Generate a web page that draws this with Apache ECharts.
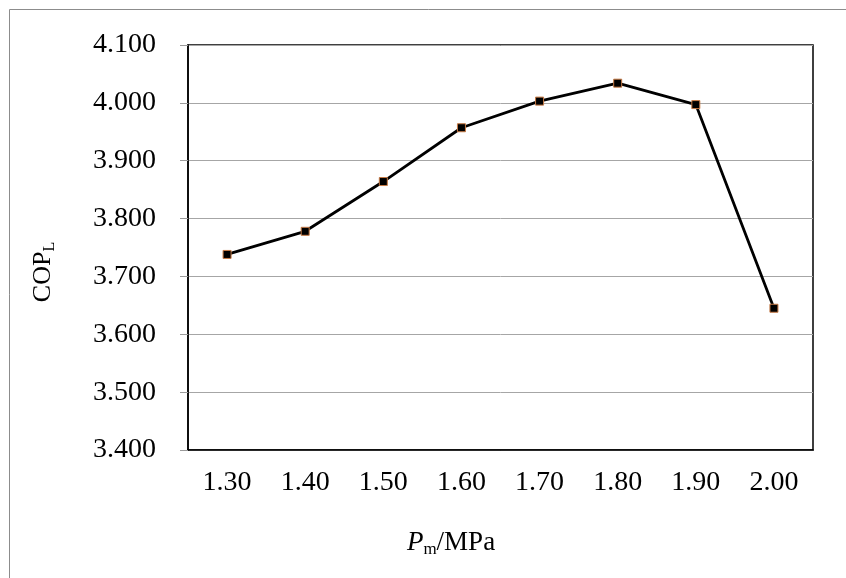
<!DOCTYPE html>
<html lang="en">
<head>
    <meta charset="UTF-8">
    <title>COPL</title>
    <style>
        body { margin: 0; background: #fff; }
        #main { width: 846px; height: 578px; }
    </style>
</head>
<body>
    <div id="main"></div>
    <script src="https://cdn.jsdelivr.net/npm/echarts@6/dist/echarts.min.js"></script>
    <script>
        // 压力 Pm (MPa)
        var categories = ['1.30', '1.40', '1.50', '1.60', '1.70', '1.80', '1.90', '2.00'];
        // COP_L
        var copValues = [3.738, 3.778, 3.864, 3.957, 4.003, 4.034, 3.997, 3.645];
        var yTicks = { min: 3.4, max: 4.1, step: 0.1 };

        var font = '"Liberation Serif", "Times New Roman", serif';

        var option = {
            animation: false,
            backgroundColor: '#fff',
            grid: {
                left: 188,
                top: 45,
                right: 33,
                bottom: 128,
                show: true,
                borderColor: '#000',
                borderWidth: 1.5,
                backgroundColor: 'transparent'
            },
            graphic: [
                {
                    type: 'rect',
                    shape: { x: 9.5, y: 9.5, width: 900, height: 700 },
                    style: { fill: 'none', stroke: '#8c8c8c', lineWidth: 1 },
                    silent: true
                },
                {
                    type: 'text',
                    x: 43,
                    y: 272,
                    rotation: Math.PI / 2,
                    style: {
                        text: '{a|COP}{b|L}',
                        align: 'center',
                        verticalAlign: 'middle',
                        rich: {
                            a: { fontFamily: font, fontSize: 26, fill: '#000' },
                            b: { fontFamily: font, fontSize: 16, fill: '#000', padding: [14, 0, 0, 0] }
                        }
                    }
                },
                {
                    type: 'text',
                    x: 451,
                    y: 543,
                    style: {
                        text: '{i|P}{s|m}{a|/MPa}',
                        align: 'center',
                        verticalAlign: 'middle',
                        rich: {
                            i: { fontFamily: font, fontSize: 27, fontStyle: 'italic', fill: '#000' },
                            s: { fontFamily: font, fontSize: 17, fill: '#000', padding: [14, 0, 0, 0] },
                            a: { fontFamily: font, fontSize: 27, fill: '#000' }
                        }
                    }
                }
            ],
            xAxis: {
                type: 'category',
                data: categories,
                boundaryGap: true,
                axisLine: { show: true, lineStyle: { color: '#000', width: 1.5 } },
                axisTick: { show: false },
                axisLabel: {
                    margin: 19,
                    fontFamily: font,
                    fontSize: 28,
                    color: '#000'
                },
                splitLine: { show: false }
            },
            yAxis: {
                type: 'value',
                min: yTicks.min,
                max: yTicks.max,
                interval: yTicks.step,
                axisLine: { show: true, lineStyle: { color: '#000', width: 1.5 } },
                axisTick: { show: true, length: 8, lineStyle: { color: '#9a9a9a' } },
                axisLabel: {
                    margin: 32,
                    fontFamily: font,
                    fontSize: 28,
                    color: '#000',
                    formatter: function (v) { return v.toFixed(3); }
                },
                splitLine: { show: true, lineStyle: { color: '#a6a6a6', width: 1 } }
            },
            series: [{
                type: 'line',
                data: copValues,
                symbol: 'rect',
                symbolSize: 8,
                lineStyle: { color: '#000', width: 2.8 },
                itemStyle: { color: '#000', borderColor: '#c77a45', borderWidth: 1 },
                z: 3
            }]
        };

        var myChart = echarts.init(document.getElementById('main'));
        myChart.setOption(option);
    </script>
</body>
</html>
